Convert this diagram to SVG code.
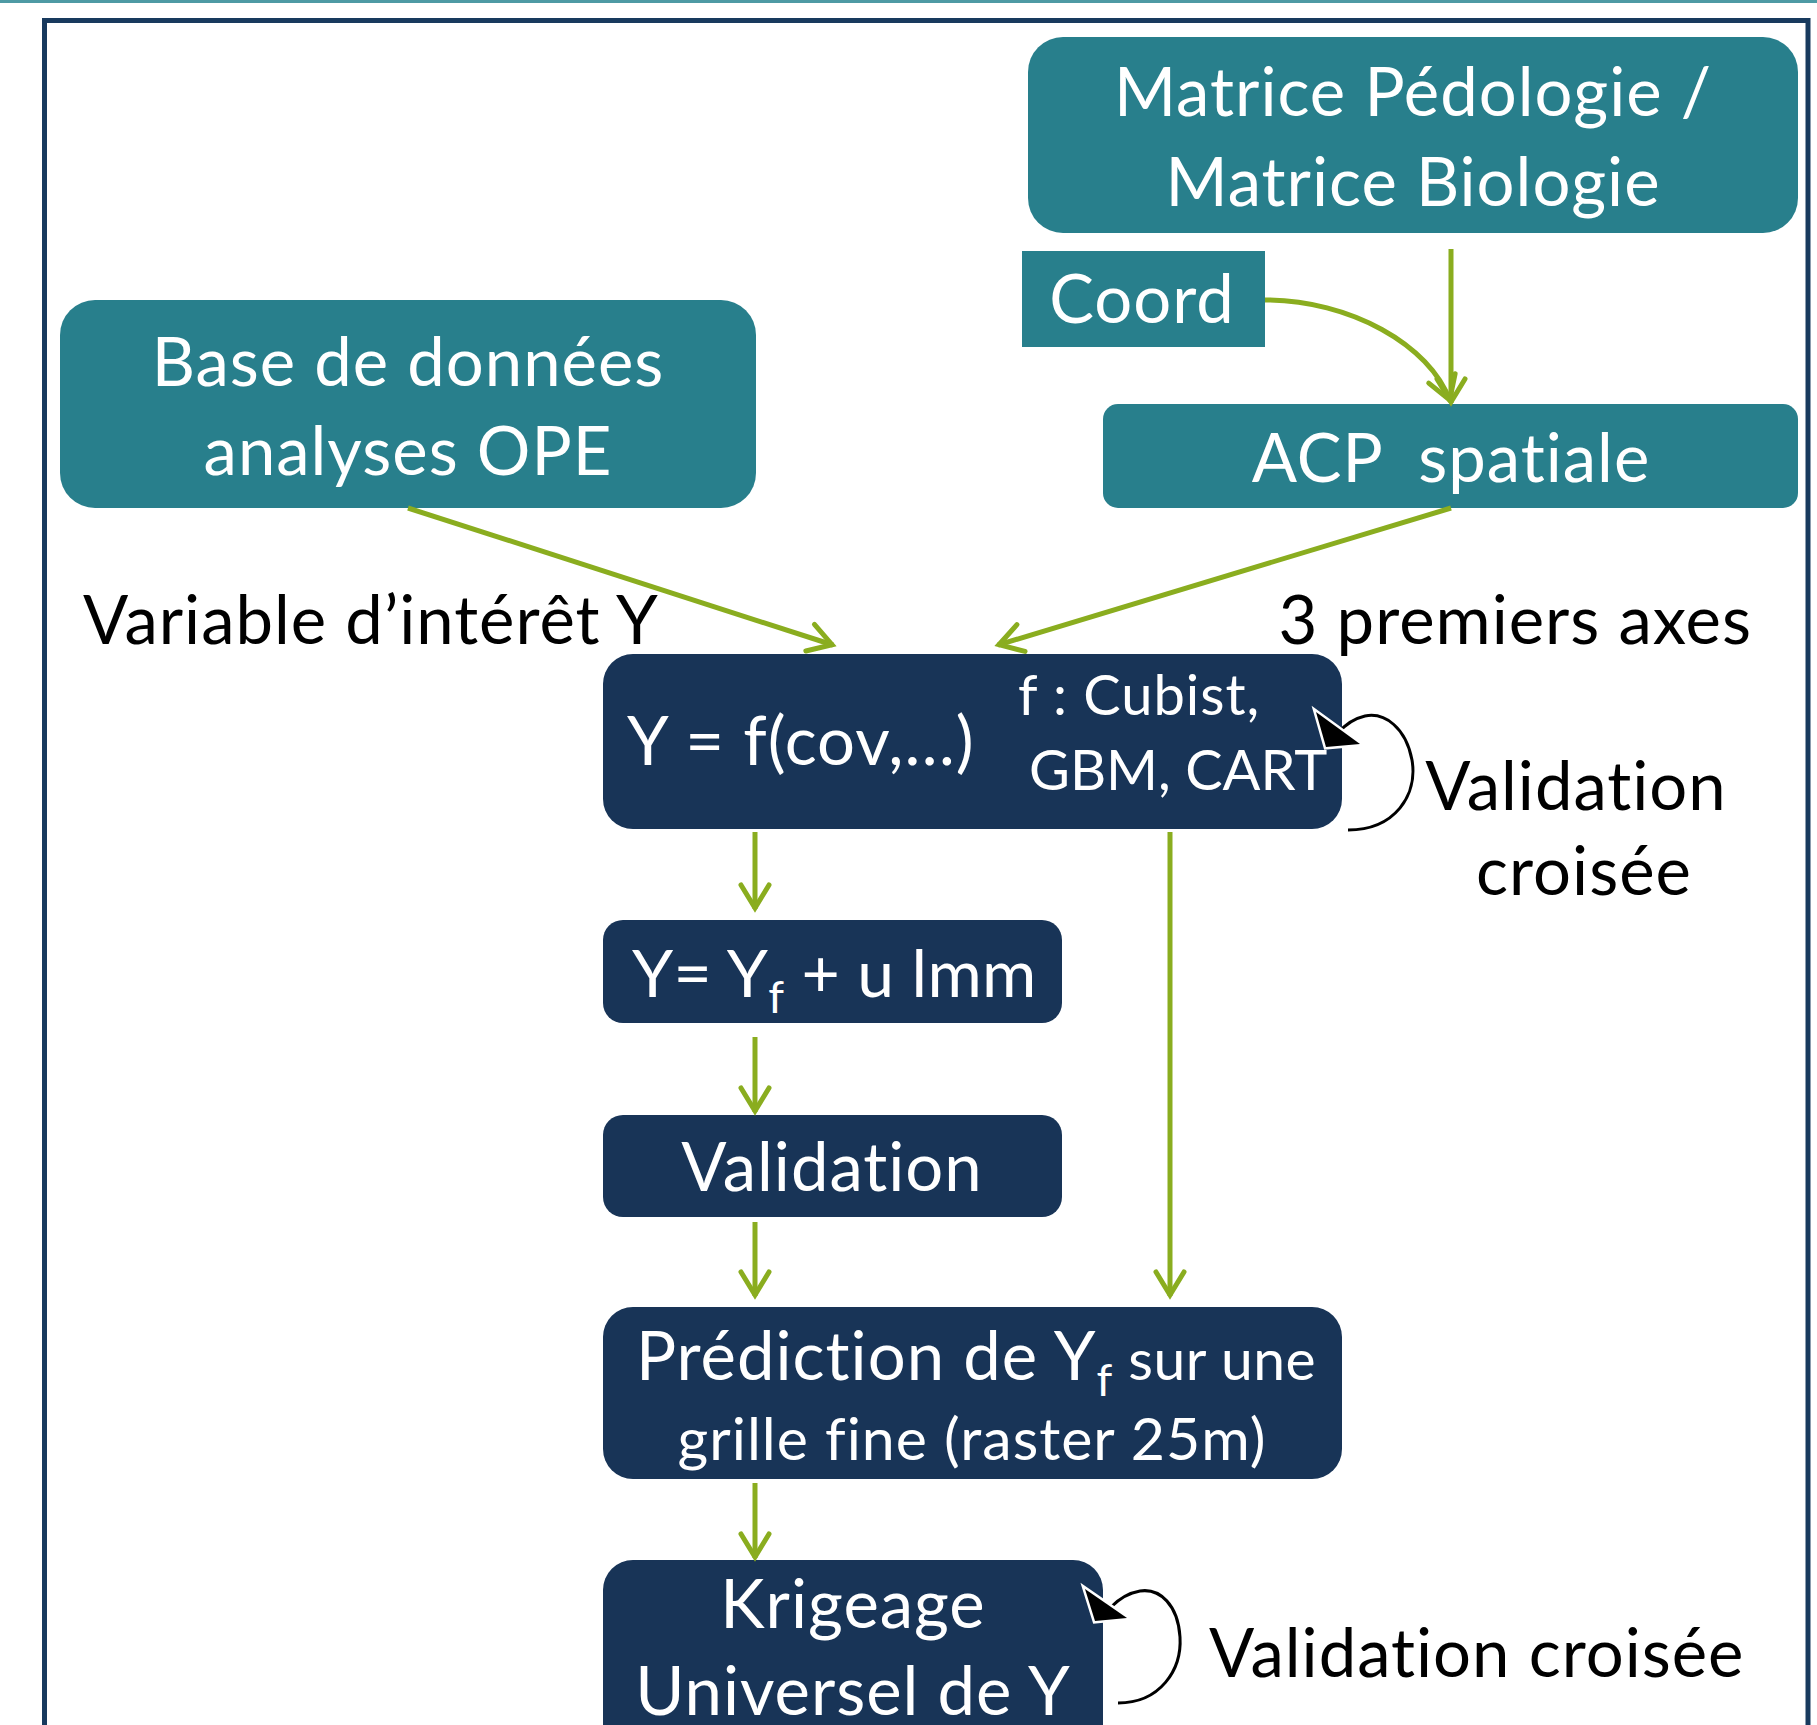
<svg xmlns="http://www.w3.org/2000/svg" width="1817" height="1725" viewBox="0 0 1817 1725">
<defs>
<style>
.t{font-family:Lato,"Open Sans","Liberation Sans",sans-serif;fill:#ffffff;font-size:67px;letter-spacing:1px;white-space:pre;font-variant-ligatures:none;font-feature-settings:"liga" 0}
.k{font-family:Lato,"Open Sans","Liberation Sans",sans-serif;fill:#000000;font-size:67px;letter-spacing:1px;white-space:pre;font-variant-ligatures:none;font-feature-settings:"liga" 0}
.s{font-size:56px;letter-spacing:0.5px}
.teal{fill:#287f8c}
.navy{fill:#183457}
.g{stroke:#8aad1f;stroke-width:5;fill:none;marker-end:url(#ah)}
.b{stroke:#000;stroke-width:3;fill:none}
.bh{fill:#000;stroke:#fff;stroke-width:5;stroke-linejoin:miter;paint-order:stroke}
</style>
<marker id="ah" markerUnits="userSpaceOnUse" markerWidth="40" markerHeight="40" viewBox="-30 -20 40 40" refX="0" refY="0" orient="auto">
<path d="M-24,-14 L-1,0 L-24,14" fill="none" stroke="#8aad1f" stroke-width="5" stroke-linecap="round" stroke-linejoin="miter"/>
</marker>
</defs>
<rect x="0" y="0" width="1817" height="3" fill="#4e9aa4"/>
<rect x="44.5" y="20.5" width="1763.5" height="1800" fill="none" stroke="#183a5e" stroke-width="5"/>

<g id="matrice">
<rect class="teal" x="1028" y="37" width="770" height="196" rx="35"/>
<text class="t" x="1413" y="116" text-anchor="middle">Matrice Pédologie /</text>
<text class="t" x="1413" y="206" text-anchor="middle">Matrice Biologie</text>
</g>
<g id="coord">
<rect class="teal" x="1022" y="251" width="243" height="96"/>
<text class="t" x="1142" y="323" text-anchor="middle">Coord</text>
</g>
<g id="acp">
<rect class="teal" x="1103" y="404" width="695" height="104" rx="15"/>
<text class="t" x="1451" y="482" text-anchor="middle">ACP  spatiale</text>
</g>
<g id="base">
<rect class="teal" x="60" y="300" width="696" height="208" rx="35"/>
<text class="t" x="408" y="386" text-anchor="middle">Base de données</text>
<text class="t" x="408" y="475" text-anchor="middle">analyses OPE</text>
</g>
<g id="label-variable">
<text class="k" x="83" y="644">Variable d’intérêt Y</text>
</g>
<g id="label-axes">
<text class="k" x="1752" y="644" text-anchor="end">3 premiers axes</text>
</g>
<g id="model">
<rect class="navy" x="603" y="654" width="739" height="175" rx="30"/>
<text class="t" x="627" y="765">Y = f(cov,…)</text>
<text class="t s" x="1018" y="715" style="letter-spacing:1px">f : Cubist,</text>
<text class="t s" x="1029" y="790" style="letter-spacing:0px">GBM, CART</text>
</g>
<g id="label-validation1">
<text class="k" x="1576" y="810" text-anchor="middle">Validation</text>
<text class="k" x="1584" y="895" text-anchor="middle">croisée</text>
</g>
<g id="residual">
<rect class="navy" x="603" y="920" width="459" height="103" rx="20"/>
<text class="t" x="632" y="997" style="font-size:66px;letter-spacing:0.3px">Y= Y<tspan dy="16" style="font-size:45px">f</tspan><tspan dy="-16"> + u lmm</tspan></text>
</g>
<g id="validation">
<rect class="navy" x="603" y="1115" width="459" height="102" rx="20"/>
<text class="t" x="832" y="1191" text-anchor="middle">Validation</text>
</g>
<g id="prediction">
<rect class="navy" x="603" y="1307" width="739" height="172" rx="30"/>
<text class="t" x="636" y="1380">Prédiction de Y<tspan dy="16" style="font-size:45px">f</tspan><tspan dy="-16" style="font-size:57px;letter-spacing:0.5px"> sur une</tspan></text>
<text class="t" x="972" y="1460" text-anchor="middle" style="font-size:59px">grille fine (raster 25m)</text>
</g>
<g id="krigeage">
<rect class="navy" x="603" y="1560" width="500" height="220" rx="30"/>
<text class="t" x="853" y="1628" text-anchor="middle">Krigeage</text>
<text class="t" x="853" y="1715" text-anchor="middle">Universel de Y</text>
</g>
<g id="label-validation2">
<text class="k" x="1209" y="1677">Validation croisée</text>
</g>

<g id="connectors">
<path class="g" d="M1451,249 L1451,403"/>
<path class="g" d="M1265,300 C1350,300 1430,345 1450,401"/>
<path class="g" d="M408,508 L833,645"/>
<path class="g" d="M1451,508 L998,645"/>
<path class="g" d="M755,832 L755,909"/>
<path class="g" d="M755,1037 L755,1112"/>
<path class="g" d="M755,1222 L755,1296"/>
<path class="g" d="M1170,832 L1170,1296"/>
<path class="g" d="M755,1483 L755,1558"/>
<path class="b" d="M1348,830 C1395,830 1418,795 1412,760 C1406,728 1385,712 1365,716 C1352,719 1344,726 1338,733"/>
<polygon class="bh" points="1316,712 1326,747 1360,744"/>
<path class="b" d="M1118,1703 C1160,1703 1182,1670 1180,1637 C1178,1605 1160,1588 1140,1591 C1128,1593 1118,1600 1111,1607"/>
<polygon class="bh" points="1085,1589 1095,1621 1127,1618"/>
</g>
</svg>
